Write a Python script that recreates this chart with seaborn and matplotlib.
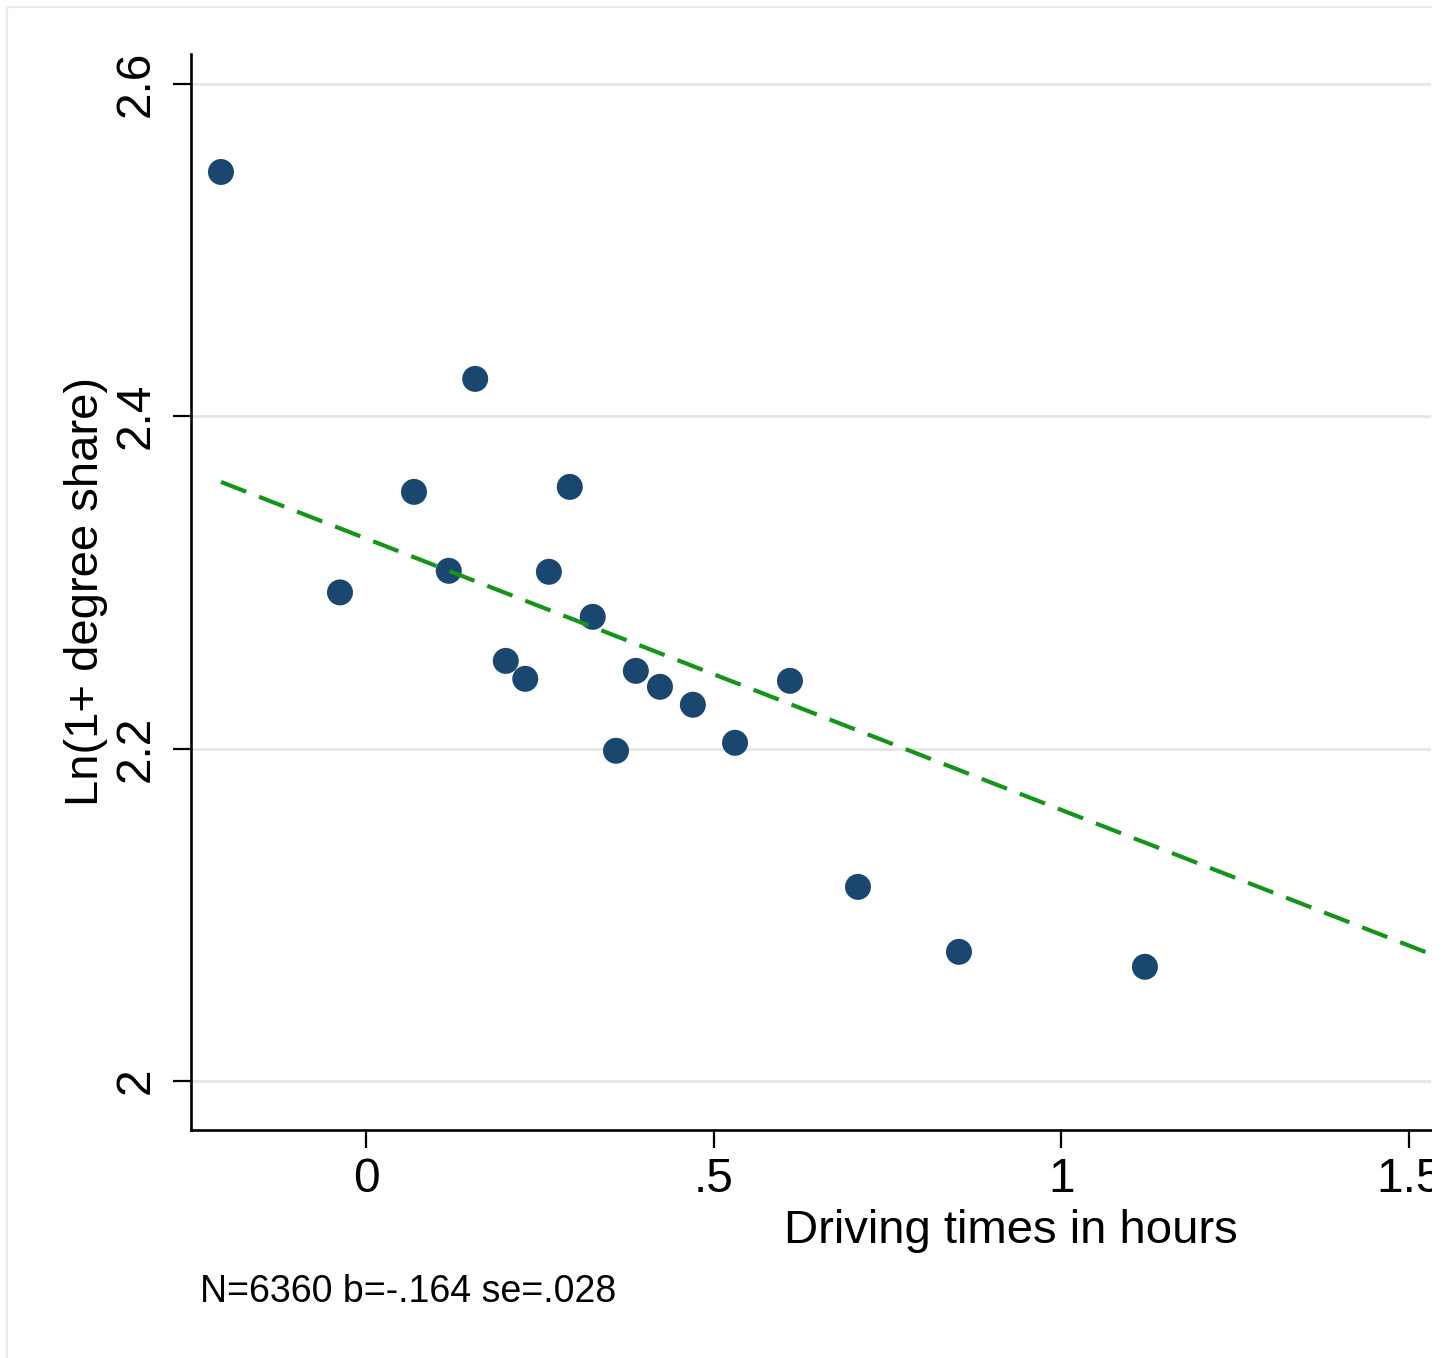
import matplotlib
matplotlib.use("Agg")
import matplotlib.pyplot as plt
import seaborn as sns
import pandas as pd
from matplotlib.patches import Rectangle
from matplotlib.lines import Line2D

# ---------------- data ----------------
x_bins = [-0.2085, -0.0374, 0.069, 0.119, 0.157, 0.201, 0.229, 0.263, 0.293,
          0.326, 0.3595, 0.388, 0.4227, 0.470, 0.5306, 0.6096, 0.7074, 0.8526, 1.120]
y_bins = [2.547, 2.294, 2.3545, 2.307, 2.4225, 2.2528, 2.242, 2.3064, 2.3575,
          2.2793, 2.1987, 2.2468, 2.2372, 2.2264, 2.2035, 2.2408, 2.1168, 2.0777, 2.0687]
fit_x = [-0.2085, 1.53]
fit_y = [2.3605, 2.0765]

x_ticks = [0, 0.5, 1, 1.5]
x_tick_labels = ["0", ".5", "1", "1.5"]
y_ticks = [2.0, 2.2, 2.4, 2.6]
y_tick_labels = ["2", "2.2", "2.4", "2.6"]

x_title = "Driving times in hours"
y_title = "Ln(1+ degree share)"
note = "N=6360 b=-.164 se=.028"

# ---------------- style ----------------
sns.set_theme(style="white")
plt.rcParams["font.family"] = ["Liberation Sans", "DejaVu Sans"]

W, H, DPI = 1447, 1358, 100
fig = plt.figure(figsize=(W / DPI, H / DPI), dpi=DPI, facecolor="white")

# axes placement (pixels from top-left in reference)
ax_l, ax_r, ax_t, ax_b = 191, 1431, 54, 1130
ax = fig.add_axes([ax_l / W, 1 - ax_b / H, (ax_r - ax_l) / W, (ax_b - ax_t) / H])

df_pts = pd.DataFrame({"x": x_bins, "y": y_bins})
df_fit = pd.DataFrame({"x": fit_x, "y": fit_y})

sns.scatterplot(data=df_pts, x="x", y="y", ax=ax, s=350, color="#1a476f",
                edgecolor="none", linewidth=0, zorder=3)
sns.lineplot(data=df_fit, x="x", y="y", ax=ax, color="#14951a", linewidth=3.0,
             linestyle=(0, (6.5, 3.3)), errorbar=None, zorder=4)

ax.set_xlim(-0.2516, 1.5313)
ax.set_ylim(1.9705, 2.618)

ax.set_xticks(x_ticks)
ax.set_xticklabels(x_tick_labels)
ax.set_yticks(y_ticks)
ax.set_yticklabels(y_tick_labels)

for s in ["top", "right"]:
    ax.spines[s].set_visible(False)
for s in ["left", "bottom"]:
    ax.spines[s].set_visible(True)
    ax.spines[s].set_color("black")
    ax.spines[s].set_linewidth(1.9)

ax.tick_params(axis="both", which="major", direction="out", length=13, width=1.6,
               color="black", labelsize=34.5, labelcolor="black")
ax.tick_params(axis="x", pad=6.5, bottom=True)
ax.tick_params(axis="y", pad=10.5, left=True)
for lab in ax.get_yticklabels():
    lab.set_rotation(90)
    lab.set_verticalalignment("center")
    lab.set_horizontalalignment("right")

ax.yaxis.grid(True, color="#e6e6e6", linewidth=2.0)
ax.xaxis.grid(False)
ax.set_axisbelow(True)

ax.set_xlabel(x_title, fontsize=34, color="black")
ax.set_ylabel(y_title, fontsize=34, color="black")
ax.xaxis.set_label_coords((1011 - ax_l) / (ax_r - ax_l), (ax_b - 1243) / (ax_b - ax_t))
ax.xaxis.label.set_verticalalignment("baseline")
ax.xaxis.label.set_horizontalalignment("center")
ax.yaxis.set_label_coords((98 - ax_l) / (ax_r - ax_l), (ax_b - 592) / (ax_b - ax_t))
ax.yaxis.label.set_verticalalignment("baseline")
ax.yaxis.label.set_horizontalalignment("center")
ax.yaxis.label.set_rotation_mode("anchor")

fig.text(200 / W, 1 - 1302 / H, note, fontsize=27, color="black",
         ha="left", va="baseline")

# outer light frame (cropped at right)
fig.add_artist(Line2D([7 / W, 1431 / W], [1 - 7 / H, 1 - 7 / H],
                      transform=fig.transFigure, color="#ececec", linewidth=1.6))
fig.add_artist(Line2D([7 / W, 7 / W], [0, 1 - 7 / H],
                      transform=fig.transFigure, color="#ececec", linewidth=1.6))
# crop mask at right edge
fig.add_artist(Rectangle((1432 / W, 0), (W - 1432) / W, 1, transform=fig.transFigure,
                         facecolor="white", edgecolor="none", zorder=20))

fig.savefig("out.png", dpi=DPI, facecolor="white")
